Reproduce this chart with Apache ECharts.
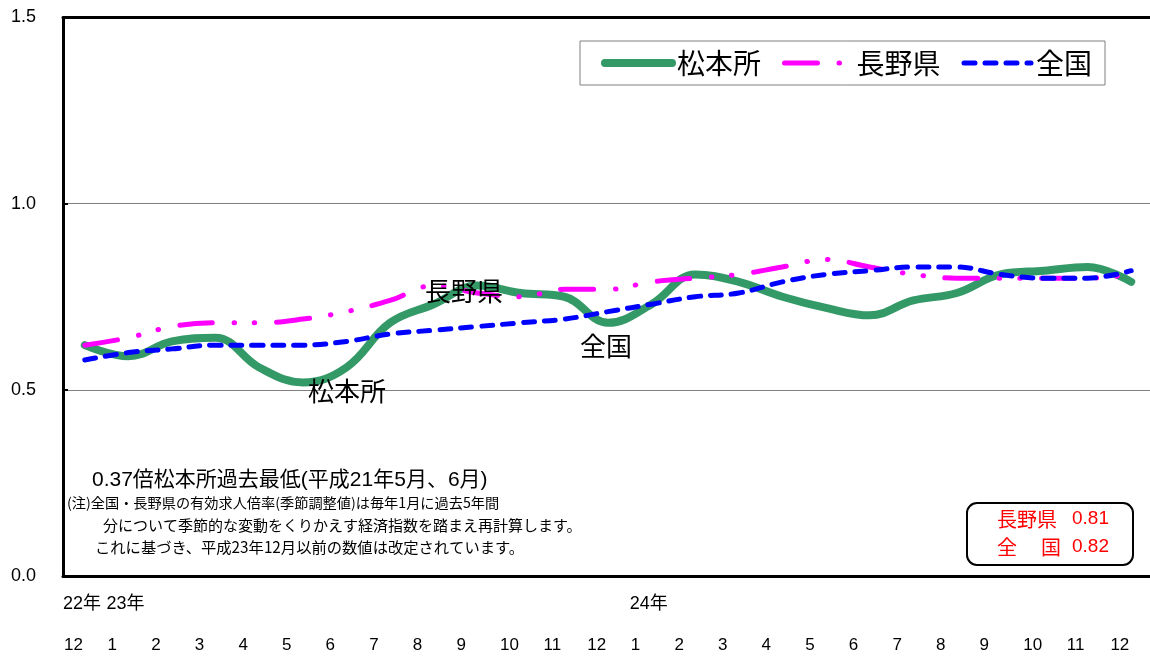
<!DOCTYPE html>
<html>
<head>
<meta charset="utf-8">
<script src="https://cdn.jsdelivr.net/npm/echarts@6/dist/echarts.min.js"></script>
<style>
html,body{margin:0;padding:0;background:#fff;}
#c{width:1150px;height:657px;}
</style>
</head>
<body>
<div id="c"></div>
<script>
// ---- data ----
const categories = ['22年12月','23年1月','23年2月','23年3月','23年4月','23年5月','23年6月','23年7月','23年8月','23年9月','23年10月','23年11月','23年12月',
  '24年1月','24年2月','24年3月','24年4月','24年5月','24年6月','24年7月','24年8月','24年9月','24年10月','24年11月','24年12月'];
const monthLabels = ['12','1','2','3','4','5','6','7','8','9','10','11','12','1','2','3','4','5','6','7','8','9','10','11','12'];
const yearLabels = ['22年','23年','','','','','','','','','','','','24年','','','','','','','','','','',''];
const yTickLabels = ['0.0','0.5','1.0','1.5'];
const seriesNames = ['松本所','長野県','全国'];
const matsumoto = [0.62,0.59,0.63,0.64,0.56,0.52,0.56,0.68,0.73,0.78,0.76,0.75,0.68,0.73,0.81,0.79,0.75,0.72,0.70,0.74,0.76,0.81,0.82,0.83,0.79];
const nagano    = [0.62,0.64,0.67,0.68,0.68,0.69,0.71,0.74,0.78,0.76,0.75,0.77,0.77,0.79,0.80,0.81,0.83,0.85,0.83,0.81,0.80,0.80,0.80,0.80,0.81];
const zenkoku   = [0.58,0.60,0.61,0.62,0.62,0.62,0.63,0.65,0.66,0.67,0.68,0.69,0.71,0.73,0.75,0.76,0.79,0.81,0.82,0.83,0.83,0.81,0.80,0.80,0.82];
const noteLines = [
  '0.37倍松本所過去最低(平成21年5月、6月)',
  '(注)全国・長野県の有効求人倍率(季節調整値)は毎年1月に過去5年間',
  '分について季節的な変動をくりかえす経済指数を踏まえ再計算します。',
  'これに基づき、平成23年12月以前の数値は改定されています。'
];

// ---- styles ----
const JP = '"Noto Sans CJK JP", sans-serif';
const MIX = '"Liberation Sans", "Noto Sans CJK JP", sans-serif';
const GREEN = '#339966', MAGENTA = '#FF00FF', BLUE = '#0000FF';
const FRAME = {show: true, onZero: false, lineStyle: {color: '#000', width: 3}};

const chart = echarts.init(document.getElementById('c'), null, {renderer: 'canvas'});

function txt(text, x, y, size, color, family) {
  return {type: 'text', x: x, y: y, z: 100,
    style: {text: text, fill: color || '#000', fontSize: size, fontFamily: family || JP, align: 'left', verticalAlign: 'middle'}};
}

const option = {
  animation: false,
  backgroundColor: '#fff',
  grid: {left: 63, width: 1090, top: 17.5, height: 558.5, outerBoundsMode: 'none', containLabel: false, show: false},
  legend: {
    left: 580, top: 41,
    padding: [8, 13, 8, 21],
    itemGap: 21, itemWidth: 67, itemHeight: 14,
    backgroundColor: '#fff', borderColor: '#808080', borderWidth: 1, borderRadius: 0,
    textStyle: {fontSize: 28, fontFamily: JP, color: '#000'},
    data: [
      {name: seriesNames[0], lineStyle: {width: 8}, itemStyle: {opacity: 0}},
      {name: seriesNames[1], lineStyle: {width: 5}, itemStyle: {opacity: 0}},
      {name: seriesNames[2], lineStyle: {width: 5}, itemStyle: {opacity: 0}}
    ]
  },
  xAxis: [
    {type: 'category', data: categories, boundaryGap: true, position: 'bottom',
      axisLine: FRAME, axisTick: {show: false}, axisLabel: {show: false}, splitLine: {show: false}},
    {type: 'value', min: 0, max: 25, interval: 1, position: 'bottom',
      axisLine: {show: false}, axisTick: {show: false}, splitLine: {show: false},
      axisLabel: {show: true, margin: 61, align: 'left', padding: [0, 0, 0, 1],
        fontSize: 17, fontFamily: '"Liberation Sans", sans-serif', color: '#000',
        formatter: function (v) { return monthLabels[v] !== undefined ? monthLabels[v] : ''; }}},
    {type: 'value', min: 0, max: 25, interval: 1, position: 'bottom',
      axisLine: {show: false}, axisTick: {show: false}, splitLine: {show: false},
      axisLabel: {show: true, margin: 19, align: 'left', padding: [0, 0, 0, 0],
        fontSize: 18, fontFamily: MIX, color: '#000',
        formatter: function (v) { return yearLabels[v] || ''; }}},
    {type: 'value', min: 0, max: 25, position: 'top',
      axisLine: FRAME, axisTick: {show: false}, splitLine: {show: false}, axisLabel: {show: false}}
  ],
  yAxis: {
    type: 'value', min: 0, max: 1.5, interval: 0.5,
    axisLine: FRAME,
    axisTick: {show: true, inside: true, length: 5, lineStyle: {color: '#000', width: 2}},
    splitLine: {show: true, lineStyle: {color: '#808080', width: 1}},
    axisLabel: {margin: 27, fontSize: 18, fontFamily: '"Liberation Sans", sans-serif', color: '#000',
      formatter: function (v) { return yTickLabels[Math.round(v / 0.5)]; }}
  },
  series: [
    {name: seriesNames[0], type: 'line', data: matsumoto, smooth: 0.4, symbol: 'none', xAxisIndex: 0, z: 2,
      lineStyle: {color: GREEN, width: 8, cap: 'round', join: 'round'}, itemStyle: {color: GREEN}},
    {name: seriesNames[1], type: 'line', data: nagano, smooth: 0.4, symbol: 'none', xAxisIndex: 0, z: 3,
      lineStyle: {color: MAGENTA, width: 5, cap: 'round', join: 'round', type: [33, 21.5, 0.5, 20, 0.5, 21.5]}, itemStyle: {color: MAGENTA}},
    {name: seriesNames[2], type: 'line', data: zenkoku, smooth: 0.4, symbol: 'none', xAxisIndex: 0, z: 4,
      lineStyle: {color: BLUE, width: 5, cap: 'round', join: 'round', type: [11, 10]}, itemStyle: {color: BLUE}}
  ],
  graphic: [
    txt(seriesNames[1], 425, 291, 26),
    txt(seriesNames[2], 580, 346, 26),
    txt(seriesNames[0], 308, 391, 26),
    txt(noteLines[0], 92, 480, 21, '#000', MIX),
    txt(noteLines[1], 67, 503, 14.2, '#000', JP),
    txt(noteLines[2], 103, 525, 15, '#000', JP),
    txt(noteLines[3], 95, 547, 15.3, '#000', JP),
    {type: 'rect', z: 99, shape: {x: 967, y: 503, width: 166, height: 62, r: 10},
      style: {fill: '#fff', stroke: '#000', lineWidth: 2}},
    txt('長野県', 997, 519, 20, '#FF0000', JP),
    txt(nagano[nagano.length - 1].toFixed(2), 1072, 519, 19, '#FF0000', MIX),
    txt('全', 997, 547, 20, '#FF0000', JP),
    txt('国', 1041, 547, 20, '#FF0000', JP),
    txt(zenkoku[zenkoku.length - 1].toFixed(2), 1072, 547, 19, '#FF0000', MIX)
  ]
};
chart.setOption(option);
</script>
</body>
</html>
